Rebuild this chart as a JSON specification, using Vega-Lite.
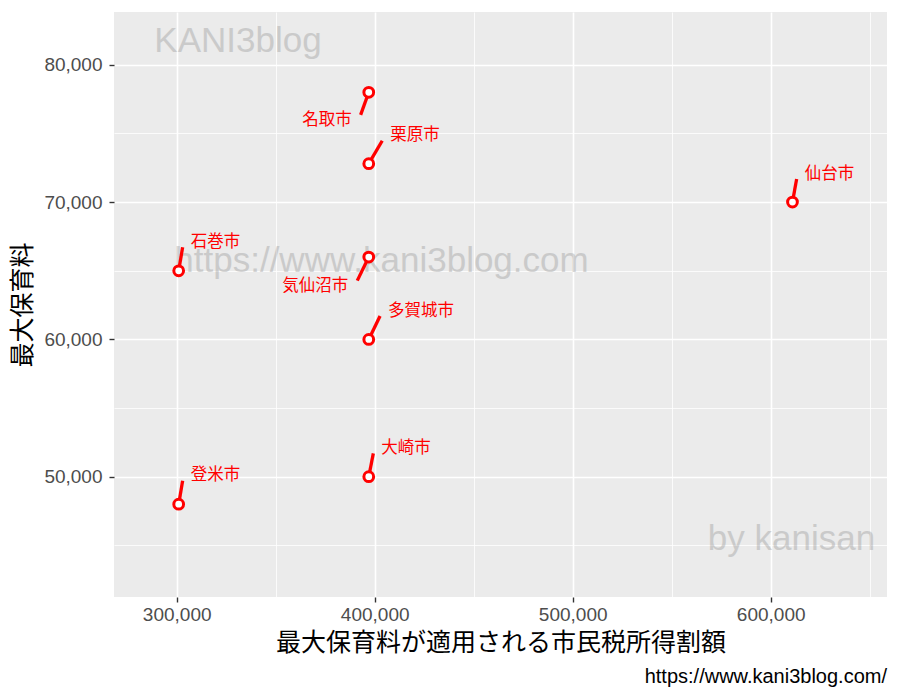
{
  "$schema": "https://vega.github.io/schema/vega-lite/v6.json",
  "width": 773,
  "height": 585,
  "autosize": {"type": "none"},
  "padding": {"left": 114, "top": 12, "right": 13, "bottom": 103},
  "background": "white",
  "view": {"fill": "#EBEBEB", "stroke": null},
  "title": {
    "text": "https://www.kani3blog.com/",
    "orient": "bottom",
    "anchor": "end",
    "font": "Liberation Sans",
    "fontSize": 20,
    "fontWeight": "normal",
    "color": "black",
    "offset": 12
  },
  "datasets": {
    "cities": [
      {"city": "名取市", "x": 397000, "y": 78000, "ex": 392900, "ey": 76350, "side": "dl"},
      {"city": "栗原市", "x": 397000, "y": 72800, "ex": 403800, "ey": 74470, "side": "ur"},
      {"city": "仙台市", "x": 611000, "y": 70000, "ex": 613100, "ey": 71680, "side": "ur"},
      {"city": "石巻市", "x": 301000, "y": 65000, "ex": 303000, "ey": 66710, "side": "ur"},
      {"city": "気仙沼市", "x": 397000, "y": 66000, "ex": 391200, "ey": 64280, "side": "dl"},
      {"city": "多賀城市", "x": 397000, "y": 60000, "ex": 402700, "ey": 61700, "side": "ur"},
      {"city": "大崎市", "x": 397000, "y": 50000, "ex": 399300, "ey": 51700, "side": "ur"},
      {"city": "登米市", "x": 301000, "y": 48000, "ex": 303000, "ey": 49710, "side": "ur"}
    ],
    "marks": [
      {"label": "KANI3blog", "x": 330960, "y": 80950},
      {"label": "https://www.kani3blog.com", "x": 403440, "y": 64910},
      {"label": "by kanisan", "x": 610500, "y": 44660}
    ]
  },
  "layer": [
    {
      "data": {"name": "marks"},
      "mark": {"type": "text", "font": "Liberation Sans", "fontSize": 35, "color": "#7F7F7F", "opacity": 0.3, "align": "center", "baseline": "alphabetic"},
      "encoding": {
        "x": {"field": "x", "type": "quantitative", "title": "最大保育料が適用される市民税所得割額",
          "scale": {"domain": [268333, 658740], "nice": false, "zero": false},
          "axis": {
            "values": [300000, 350000, 400000, 450000, 500000, 550000, 600000, 650000],
            "labelExpr": "datum.value % 100000 === 0 ? format(datum.value, ',') : ''",
            "grid": true, "gridColor": "white",
            "gridWidth": {"condition": {"test": "datum.value % 100000 === 0", "value": 1.6}, "value": 0.8},
            "tickColor": "#333333", "tickWidth": 1.4, "tickSize": 5,
            "tickOpacity": {"condition": {"test": "datum.value % 100000 !== 0", "value": 0}, "value": 1},
            "domain": false, "labelFont": "Liberation Sans", "labelFontSize": 19, "labelColor": "#4D4D4D", "labelPadding": 3,
            "titleFont": "Noto Sans CJK JP", "titleFontSize": 25, "titleFontWeight": "normal", "titleColor": "black", "titlePadding": 6
          }},
        "y": {"field": "y", "type": "quantitative", "title": "最大保育料",
          "scale": {"domain": [41240, 83845], "nice": false, "zero": false},
          "axis": {
            "values": [45000, 50000, 55000, 60000, 65000, 70000, 75000, 80000],
            "labelExpr": "datum.value % 10000 === 0 ? format(datum.value, ',') : ''",
            "grid": true, "gridColor": "white",
            "gridWidth": {"condition": {"test": "datum.value % 10000 === 0", "value": 1.6}, "value": 0.8},
            "tickColor": "#333333", "tickWidth": 1.4, "tickSize": 5,
            "tickOpacity": {"condition": {"test": "datum.value % 10000 !== 0", "value": 0}, "value": 1},
            "domain": false, "labelFont": "Liberation Sans", "labelFontSize": 19, "labelColor": "#4D4D4D", "labelPadding": 7,
            "titleFont": "Noto Sans CJK JP", "titleFontSize": 25, "titleFontWeight": "normal", "titleColor": "black", "titlePadding": 8
          }},
        "text": {"field": "label"}
      }
    },
    {
      "data": {"name": "cities"},
      "mark": {"type": "rule", "color": "#FF0000", "strokeWidth": 3.3, "strokeCap": "butt"},
      "encoding": {
        "x": {"field": "x", "type": "quantitative", "title": "最大保育料が適用される市民税所得割額", "scale": {"domain": [268333, 658740], "nice": false, "zero": false}},
        "y": {"field": "y", "type": "quantitative", "title": "最大保育料", "scale": {"domain": [41240, 83845], "nice": false, "zero": false}},
        "x2": {"field": "ex"},
        "y2": {"field": "ey"}
      }
    },
    {
      "data": {"name": "cities"},
      "mark": {"type": "point", "shape": "circle", "filled": false, "fill": "white", "fillOpacity": 1, "stroke": "#FF0000", "strokeWidth": 3, "size": 95, "opacity": 1},
      "encoding": {
        "x": {"field": "x", "type": "quantitative", "title": "最大保育料が適用される市民税所得割額", "scale": {"domain": [268333, 658740], "nice": false, "zero": false}},
        "y": {"field": "y", "type": "quantitative", "title": "最大保育料", "scale": {"domain": [41240, 83845], "nice": false, "zero": false}}
      }
    },
    {
      "data": {"name": "cities"},
      "transform": [{"filter": "datum.side === 'ur'"}],
      "mark": {"type": "text", "font": "Noto Sans CJK JP", "fontSize": 16.5, "color": "#FF0000", "align": "left", "baseline": "middle", "dx": 8, "dy": -5.5},
      "encoding": {
        "x": {"field": "ex", "type": "quantitative", "title": "最大保育料が適用される市民税所得割額", "scale": {"domain": [268333, 658740], "nice": false, "zero": false}},
        "y": {"field": "ey", "type": "quantitative", "title": "最大保育料", "scale": {"domain": [41240, 83845], "nice": false, "zero": false}},
        "text": {"field": "city"}
      }
    },
    {
      "data": {"name": "cities"},
      "transform": [{"filter": "datum.side === 'dl'"}],
      "mark": {"type": "text", "font": "Noto Sans CJK JP", "fontSize": 16.5, "color": "#FF0000", "align": "right", "baseline": "middle", "dx": -9, "dy": 5},
      "encoding": {
        "x": {"field": "ex", "type": "quantitative", "title": "最大保育料が適用される市民税所得割額", "scale": {"domain": [268333, 658740], "nice": false, "zero": false}},
        "y": {"field": "ey", "type": "quantitative", "title": "最大保育料", "scale": {"domain": [41240, 83845], "nice": false, "zero": false}},
        "text": {"field": "city"}
      }
    }
  ]
}
